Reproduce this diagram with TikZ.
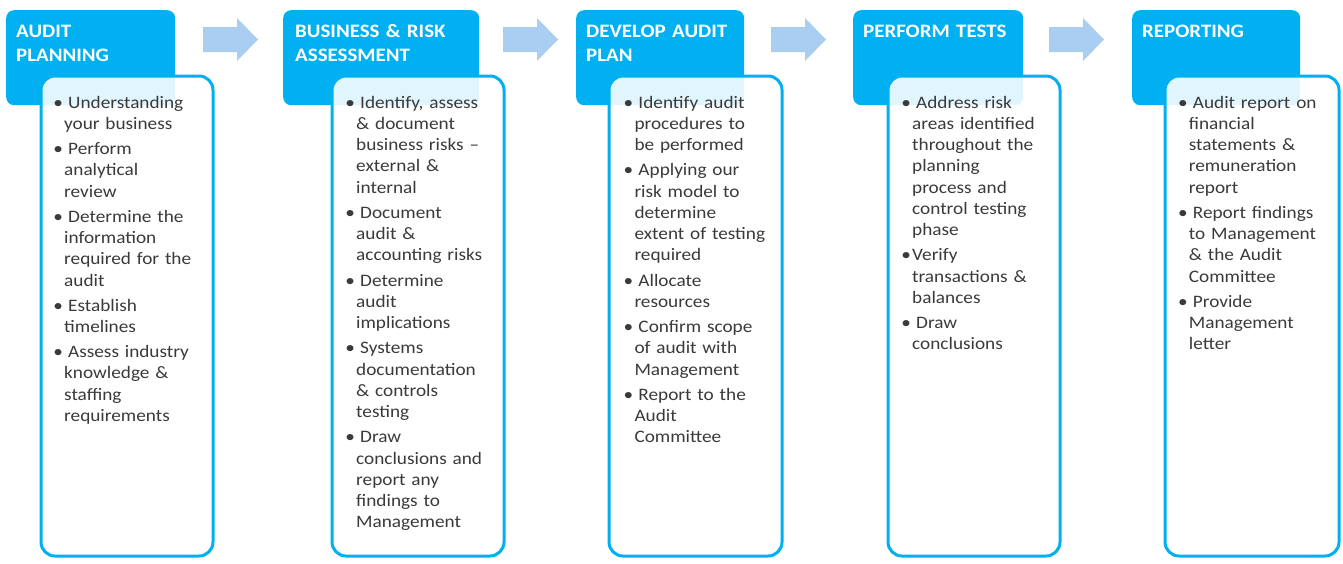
\documentclass[tikz,border=0pt]{standalone}
\usepackage{fontspec}
\setmainfont{Carlito}[FakeStretch=1.1]
\definecolor{stageblue}{HTML}{00B0F0}
\definecolor{arrowblue}{HTML}{A9CEF2}
\definecolor{bodytext}{HTML}{3A3A3A}
% line break that stays inside the current paragraph
\newcommand\nl{\break}
% first bullet point of a list, with a hanging indent
\newcommand\bfirst{\hangindent=10pt\hangafter=1\makebox[14pt][l]{\makebox[8pt]{\textbullet}}}
% further bullet points
\newcommand\bpt{\par\noindent\bfirst}
% bullet point with no space after the bullet
\newcommand\bptn{\par\noindent\hangindent=10pt\hangafter=1\makebox[10pt][l]{\makebox[8pt]{\textbullet}}}
% block arrow between two stages; #1 = left end
\newcommand\blockarrow[1]{%
  \fill[arrowblue] (#1,27) -- ++(34,0) -- ++(0,-9) -- ++(21,21.5) -- ++(-21,21.5) -- ++(0,-9) -- ++(-34,0) -- cycle;}
\tikzset{
  header/.style={fill=stageblue, draw=none, rounded corners=8pt, anchor=north west, inner sep=0pt},
  headtext/.style={anchor=base west, inner sep=0pt, text=white, align=left, text width=190pt,
    font=\fontsize{19}{24}\selectfont\bfseries},
  panel/.style={draw=stageblue, line width=3pt, fill=white, fill opacity=0.88, draw opacity=1,
    rounded corners=14pt, anchor=north west, inner sep=0pt, minimum width=172pt, minimum height=480pt},
  bodylist/.style={anchor=base west, inner sep=0pt, text=bodytext, align=left, text width=#1,
    font=\fontsize{17.5}{21.3}\selectfont\setlength\parskip{3.8pt}},
}
\begin{document}
\begin{tikzpicture}[x=1pt,y=-1pt]
\useasboundingbox[fill=white] (0,0) rectangle (1343,563);

% stage headers
\node[header, minimum width=169pt, minimum height=95pt] (h1) at (6,10) {};
\node[header, minimum width=196pt, minimum height=95pt] (h2) at (283,10) {};
\node[header, minimum width=168pt, minimum height=95pt] (h3) at (576,10) {};
\node[header, minimum width=170pt, minimum height=95pt] (h4) at (853,10) {};
\node[header, minimum width=168pt, minimum height=95pt] (h5) at (1132,10) {};

% arrows between the stages
\blockarrow{203}
\blockarrow{503}
\blockarrow{771}
\blockarrow{1049}

% white panels overlapping the headers
\node[panel] (p1) at (39.5,74.5) {};
\node[panel] (p2) at (330.5,74.5) {};
\node[panel, minimum width=173pt] (p3) at (607.5,74.5) {};
\node[panel] (p4) at (886.5,74.5) {};
\node[panel, minimum width=174pt] (p5) at (1163.5,74.5) {};

% header titles
\node[headtext] (t1) at ([xshift=10pt,yshift=-27pt]h1.north west) {AUDIT\\PLANNING};
\node[headtext] (t2) at ([xshift=12pt,yshift=-27pt]h2.north west) {BUSINESS \& RISK\\ASSESSMENT};
\node[headtext] (t3) at ([xshift=10pt,yshift=-27pt]h3.north west) {DEVELOP AUDIT\\PLAN};
\node[headtext] (t4) at ([xshift=10pt,yshift=-27pt]h4.north west) {PERFORM TESTS};
\node[headtext] (t5) at ([xshift=10pt,yshift=-27pt]h5.north west) {REPORTING};

% bullet lists
\node[bodylist=150pt] (l1) at (54,108) {%
\bfirst Understanding\nl your business
\bpt Perform\nl analytical\nl review
\bpt Determine the\nl information\nl required for the\nl audit
\bpt Establish\nl timelines
\bpt Assess industry\nl knowledge \&\nl staffing\nl requirements\par};

\node[bodylist=150pt] (l2) at (346,108) {%
\bfirst Identify, assess\nl \& document\nl business risks –\nl external \&\nl internal
\bpt Document\nl audit \&\nl accounting risks
\bpt Determine\nl audit\nl implications
\bpt Systems\nl documentation\nl \& controls\nl testing
\bpt Draw\nl conclusions and\nl report any\nl findings to\nl Management\par};

\node[bodylist=150pt] (l3) at (624.3,108) {%
\bfirst Identify audit\nl procedures to\nl be performed
\bpt Applying our\nl risk model to\nl determine\nl extent of testing\nl required
\bpt Allocate\nl resources
\bpt Confirm scope\nl of audit with\nl Management
\bpt Report to the\nl Audit\nl Committee\par};

\node[bodylist=150pt] (l4) at (902,108) {%
\bfirst Address risk\nl areas identified\nl throughout the\nl planning\nl process and\nl control testing\nl phase
\bptn Verify\nl transactions \&\nl balances
\bpt Draw\nl conclusions\par};

\node[bodylist=150pt] (l5) at (1178.7,108) {%
\bfirst Audit report on\nl financial\nl statements \&\nl remuneration\nl report
\bpt Report findings\nl to Management\nl \& the Audit\nl Committee
\bpt Provide\nl Management\nl letter\par};
\end{tikzpicture}
\end{document}
